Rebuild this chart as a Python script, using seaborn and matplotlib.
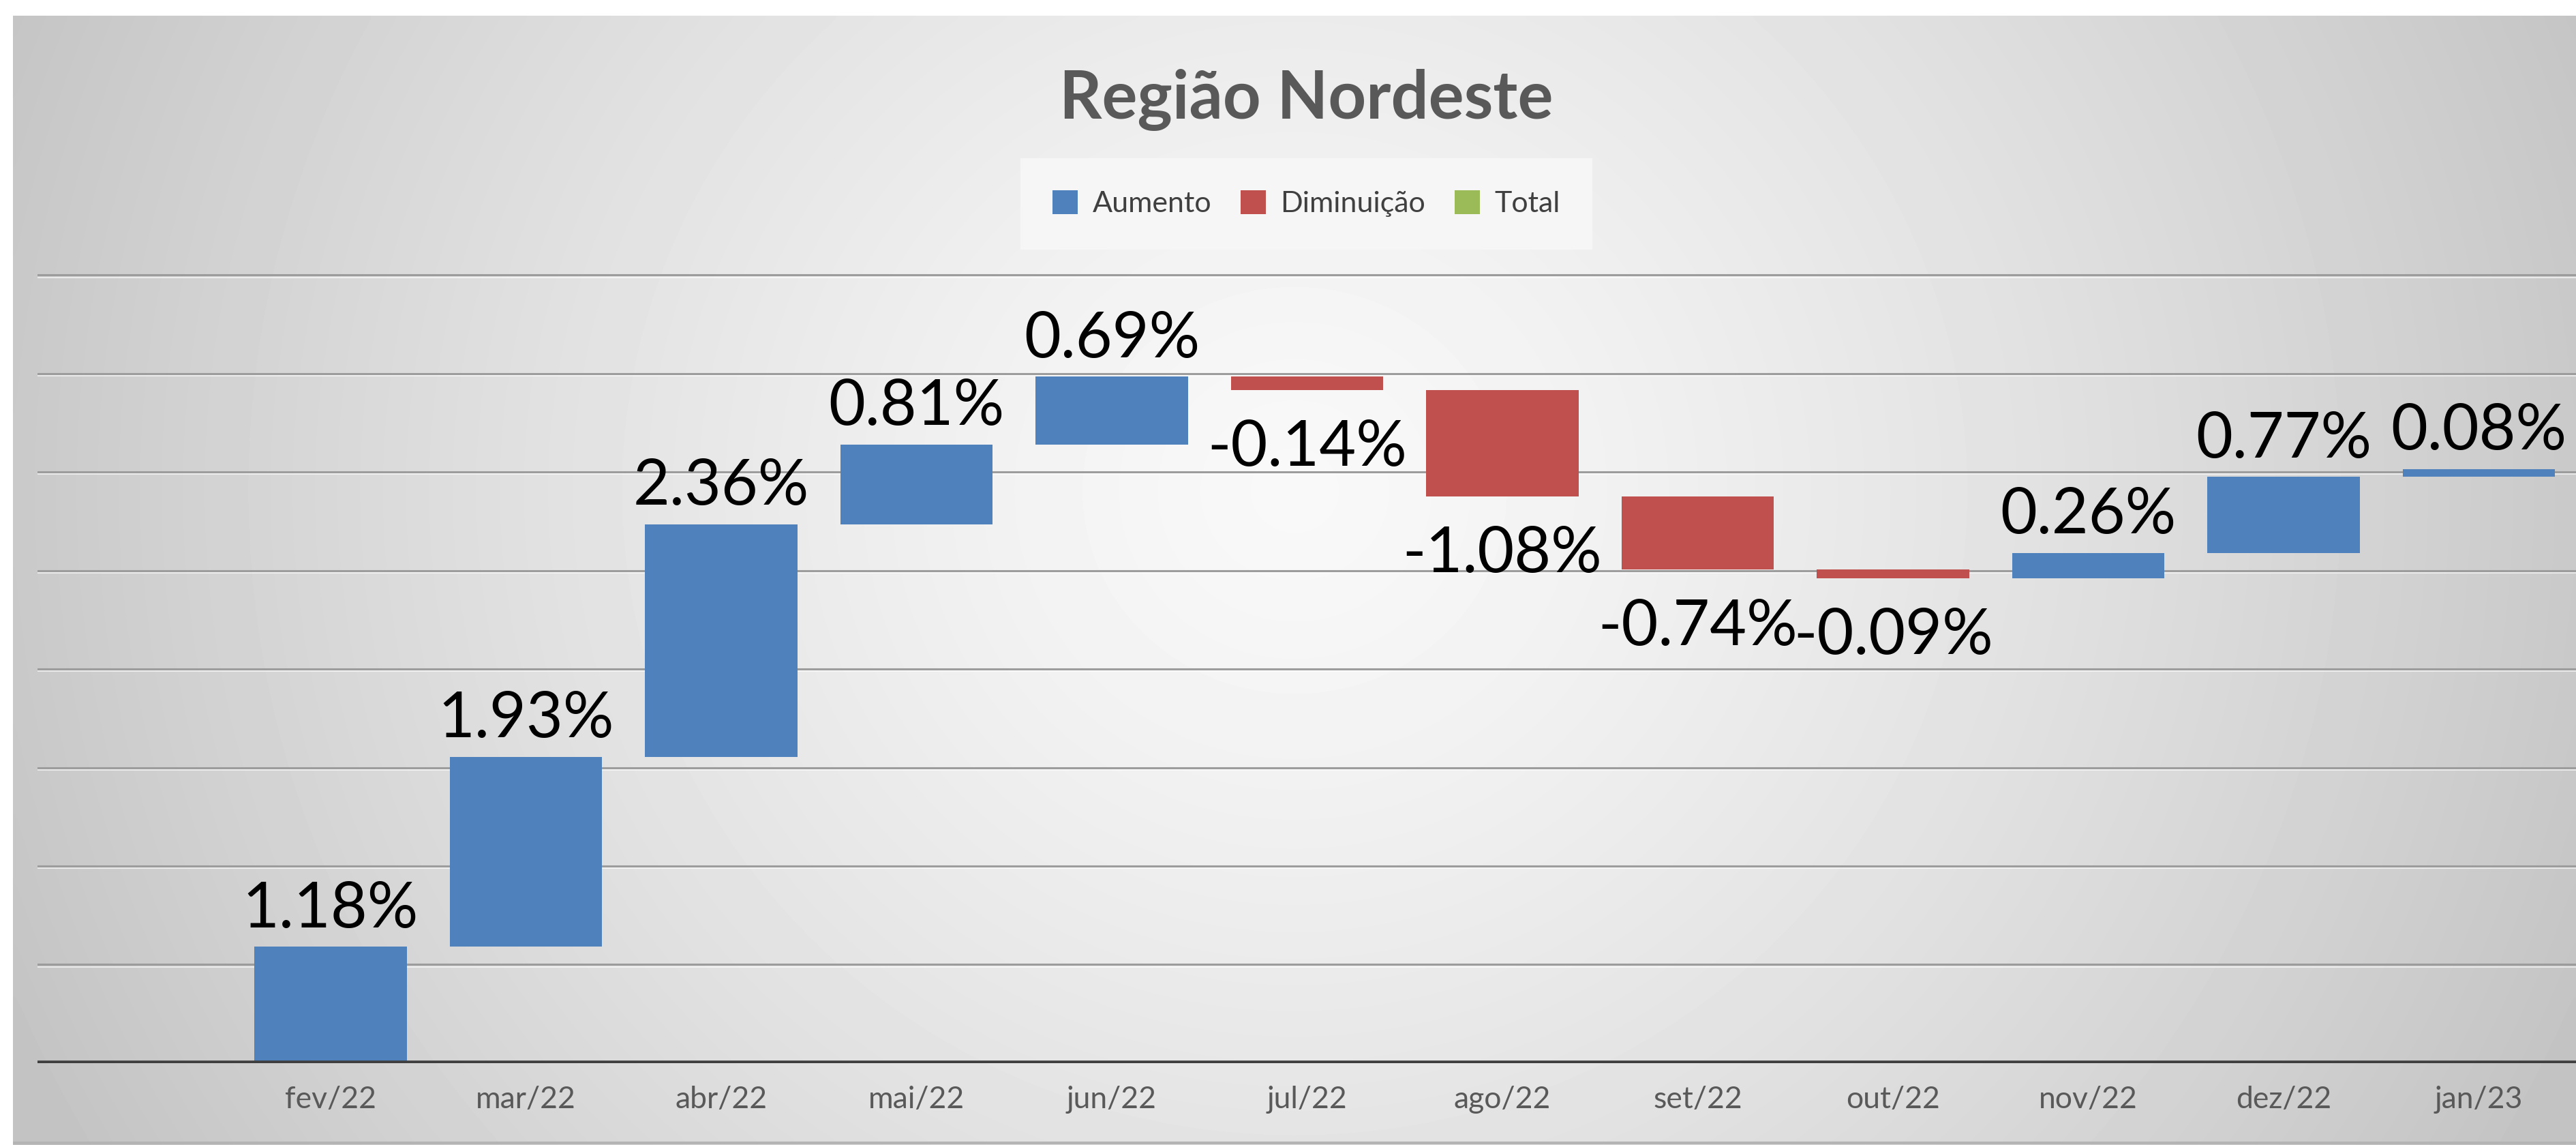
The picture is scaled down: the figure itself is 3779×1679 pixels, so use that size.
import numpy as np
import pandas as pd
import matplotlib.pyplot as plt
from matplotlib.patches import Patch
import seaborn as sns

# waterfall data (monthly change, %)
months = ["fev/22", "mar/22", "abr/22", "mai/22", "jun/22", "jul/22",
          "ago/22", "set/22", "out/22", "nov/22", "dez/22", "jan/23"]
changes = [1.18, 1.93, 2.36, 0.81, 0.69, -0.14,
           -1.08, -0.74, -0.09, 0.26, 0.77, 0.08]
labels = ["1.18%", "1.93%", "2.36%", "0.81%", "0.69%", "-0.14%",
          "-1.08%", "-0.74%", "-0.09%", "0.26%", "0.77%", "0.08%"]
legend_names = ["Aumento", "Diminuição", "Total"]
colors = {"Aumento": "#4f81bd", "Diminuição": "#c0504d", "Total": "#9bbb59"}

df = pd.DataFrame({"mes": months, "var": changes, "label": labels})
df["fim"] = df["var"].cumsum()
df["inicio"] = df["fim"] - df["var"]
df["base"] = df[["inicio", "fim"]].min(axis=1)
df["altura"] = df["var"].abs()
df["tipo"] = np.where(df["var"] >= 0, "Aumento", "Diminuição")

sns.set_theme(style="white")
plt.rcParams["font.family"] = ["Lato", "DejaVu Sans"]

fig = plt.figure(figsize=(37.8, 16.79), dpi=100)
fig.patch.set_facecolor("white")

# radial gray gradient like the Excel chart area
bg = fig.add_axes([19 / 3780, 0, 1 - 19 / 3780, 1 - 23 / 1679], zorder=-10)
gx, gy = np.meshgrid(np.linspace(0, 1, 400), np.linspace(0, 1, 200))
r = np.sqrt(((gx - 0.5) / 0.55) ** 2 + ((gy - 0.42) / 1.2) ** 2)
shade = 0.975 - 0.21 * np.clip(r, 0, 1) ** 1.3
bg.imshow(shade, cmap="gray", vmin=0, vmax=1, aspect="auto",
          extent=[0, 1, 1, 0], interpolation="bicubic")
bg.axhline(0.998, color="#b4b4b4", lw=3)
bg.set_xlim(0, 1)
bg.set_ylim(1, 0)
bg.axis("off")

ax = fig.add_axes([0.0146, 0.0715, 0.9854, 0.690])
ax.set_facecolor("none")

sns.barplot(data=df, x="mes", y="altura", hue="tipo", order=months,
            hue_order=["Aumento", "Diminuição"], palette=colors,
            dodge=False, width=0.78, saturation=1, legend=False, ax=ax, zorder=3)

# move each bar to its floating position
for p in ax.patches:
    i = int(round(p.get_x() + p.get_width() / 2))
    p.set_y(df["base"].iloc[i])
    p.set_edgecolor("none")

for i, row in df.iterrows():
    if row["var"] >= 0:
        ax.annotate(row["label"], (i, row["fim"]), xytext=(0, 9),
                    textcoords="offset points", ha="center", va="bottom",
                    fontsize=67, color="black", zorder=5)
    else:
        ax.annotate(row["label"], (i, row["fim"]), xytext=(0, -31),
                    textcoords="offset points", ha="center", va="top",
                    fontsize=67, color="black", zorder=5)

ax.set_xlim(-1.5, 11.5)
ax.set_ylim(0, 8.02)
for y in range(1, 9):
    ax.axhline(y, color="#9c9c9c", lw=2.2, zorder=1)
    ax.axhline(y - 0.022, color="white", lw=1.5, alpha=0.6, zorder=1)
ax.axhline(0, color="#3f3f3f", lw=5.5, zorder=4)

ax.set_yticks([])
ax.set_xlabel("")
ax.set_ylabel("")
ax.tick_params(axis="x", length=0, pad=24, labelsize=32, labelcolor="#595959")
for s in ax.spines.values():
    s.set_visible(False)

fig.text(0.507, 0.913, "Região Nordeste", ha="center", va="center",
         fontsize=70, fontweight="bold", color="#595959")

handles = [Patch(facecolor=colors[n], edgecolor="none") for n in legend_names]
leg = fig.legend(handles, legend_names, loc="center", bbox_to_anchor=(0.507, 0.822),
                 ncol=3, fontsize=31, frameon=True, facecolor="#f6f6f6",
                 edgecolor="none", framealpha=1, fancybox=False,
                 handlelength=0.85, handleheight=0.85, handletextpad=0.5,
                 columnspacing=1.0, borderpad=1.1)
for t in leg.get_texts():
    t.set_color("#404040")

fig.savefig("out.png", dpi=100)
